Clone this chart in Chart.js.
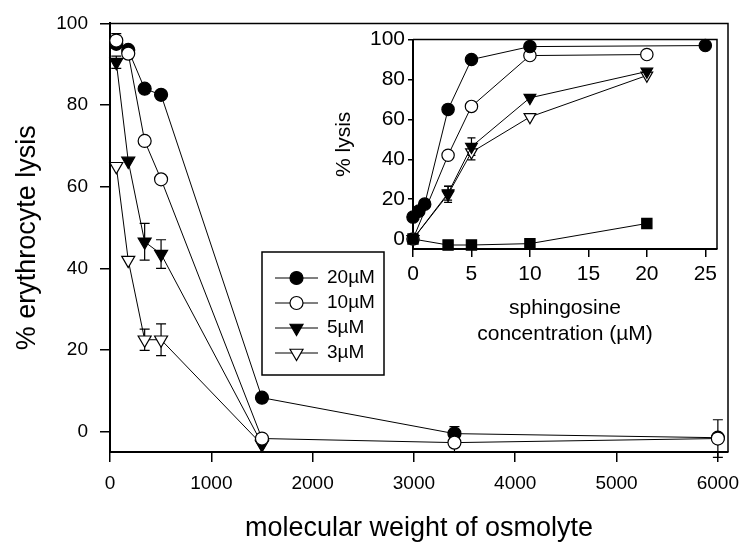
<!DOCTYPE html>
<html>
<head>
<meta charset="utf-8">
<script src="https://cdn.jsdelivr.net/npm/chart.js@4.4.1/dist/chart.umd.min.js"></script>
<style>
  html, body { margin: 0; padding: 0; background: #fff; }
  #wrap { position: relative; width: 750px; height: 552px; }
  #mainChart { position: absolute; left: 0; top: 0; width: 750px; height: 552px; }
  #insetChart { position: absolute; left: 330px; top: 24px; width: 396px; height: 326px; }
</style>
</head>
<body>
<div id="wrap">
  <canvas id="mainChart" width="750" height="552"></canvas>
  <canvas id="insetChart" width="396" height="326"></canvas>
</div>
<script>
const FONT = "'Liberation Sans', Arial, sans-serif";

// ---- main panel: lysis vs molecular weight of osmolyte ----
const molWeight = [62, 180, 342, 504, 1500, 3400, 6000];
const lysis20uM = [95, 93.5, 84, 82.5, 8.3, -0.5, -1.5];
const lysis10uM = [95.8, 92.6, 71.2, 61.8, -1.7, -2.7, -1.7];
const lysis5uM  = [90.5, 66.3, 46.5, 43.5, -3];
const lysis3uM  = [65, 42, 22.5, 22.5, -3.2];
const err20uM = [0, 0, 0, 0, 0, 1.7, 0];
const err10uM = [1.7, 0, 0, 0, 0, 2.2, 4.6];
const err5uM  = [1.5, 0, 4.5, 3.5, 0];
const err3uM  = [0, 0, 2.6, 3.9, 0];
const mainXTicks = [0, 1000, 2000, 3000, 4000, 5000, 6000];
const mainYTicks = [0, 20, 40, 60, 80, 100];
const legendLabels = ['20µM', '10µM', '5µM', '3µM'];

// ---- inset: lysis vs sphingosine concentration ----
const concA  = [0, 0.5, 1, 3, 5, 10, 25];
const lysisA = [11, 14, 17.5, 65, 90, 96.5, 97];
const concB  = [0, 3, 5, 10, 20];
const lysisB = [0, 42, 66.5, 92, 92.5];
const lysisC = [0, 23, 46.3, 70.8, 84];
const lysisD = [0, 22.4, 43.5, 61.2, 82];
const lysisE = [0, -3, -3, -2.3, 7.8];
const errC = [0, 3.5, 4.4, 0, 0];
const errD = [0, 4, 3.8, 0, 0];
const insetXTicks = [0, 5, 10, 15, 20, 25];
const insetYTicks = [0, 20, 40, 60, 80, 100];

const MARKERS = {
  filledCircle: { pointStyle: 'circle', pointRotation: 0, pointBackgroundColor: '#000' },
  openCircle:   { pointStyle: 'circle', pointRotation: 0, pointBackgroundColor: '#fff' },
  filledDown:   { pointStyle: 'triangle', pointRotation: 180, pointBackgroundColor: '#000' },
  openDown:     { pointStyle: 'triangle', pointRotation: 180, pointBackgroundColor: '#fff' },
  filledSquare: { pointStyle: 'rect', pointRotation: 0, pointBackgroundColor: '#000' }
};
const RADIUS = { circle: 6.5, triangle: 7.5, rect: 8.5 };

const pts = (xs, ys) => ys.map((y, i) => ({ x: xs[i], y }));

function series(label, xs, ys, errs, marker, order, scale = 1) {
  const m = MARKERS[marker];
  const r = RADIUS[m.pointStyle] * scale;
  return {
    label, order, errorBars: errs,
    data: pts(xs, ys),
    borderColor: '#000', borderWidth: 1, tension: 0, clip: false,
    pointBorderColor: '#000', pointBorderWidth: 1.2,
    pointRadius: r, pointHoverRadius: r,
    ...m
  };
}

// error bars drawn under the markers
const errorBarPlugin = {
  id: 'errorBars',
  beforeDatasetsDraw(chart, args, opts) {
    const { ctx, scales: { x, y } } = chart;
    ctx.save();
    ctx.strokeStyle = '#000';
    ctx.lineWidth = 1.2;
    chart.data.datasets.forEach(ds => {
      (ds.errorBars || []).forEach((e, i) => {
        if (!e) return;
        const p = ds.data[i];
        const px = x.getPixelForValue(p.x);
        const top = y.getPixelForValue(p.y + e);
        const bot = y.getPixelForValue(p.y - e);
        ctx.beginPath();
        ctx.moveTo(px, top); ctx.lineTo(px, bot);
        ctx.moveTo(px - opts.cap, top); ctx.lineTo(px + opts.cap, top);
        ctx.moveTo(px - opts.cap, bot); ctx.lineTo(px + opts.cap, bot);
        ctx.stroke();
      });
    });
    ctx.restore();
  }
};

// top + right edges of the plot box
const framePlugin = {
  id: 'frame',
  beforeDatasetsDraw(chart, args, opts) {
    const { ctx, chartArea: a } = chart;
    ctx.save();
    ctx.strokeStyle = '#000';
    ctx.lineWidth = opts.width;
    ctx.beginPath();
    ctx.moveTo(a.left, a.top);
    ctx.lineTo(a.right, a.top);
    ctx.lineTo(a.right, a.bottom);
    ctx.stroke();
    ctx.restore();
  }
};

// boxed legend sitting inside the plot
const boxLegendPlugin = {
  id: 'boxLegend',
  afterDraw(chart, args, o) {
    const { ctx } = chart;
    ctx.save();
    ctx.fillStyle = '#fff';
    ctx.strokeStyle = '#000';
    ctx.lineWidth = 1.5;
    ctx.fillRect(o.left, o.top, o.width, o.height);
    ctx.strokeRect(o.left, o.top, o.width, o.height);
    ctx.font = `${o.fontSize}px ${FONT}`;
    ctx.textBaseline = 'middle';
    o.labels.forEach((label, i) => {
      const ds = chart.data.datasets.find(d => d.label === label);
      const y = o.firstRow + i * o.rowGap;
      ctx.lineWidth = 1;
      ctx.strokeStyle = '#000';
      ctx.beginPath();
      ctx.moveTo(o.lineX0, y); ctx.lineTo(o.lineX1, y);
      ctx.stroke();
      ctx.fillStyle = ds.pointBackgroundColor;
      ctx.lineWidth = ds.pointBorderWidth;
      Chart.helpers.drawPoint(ctx, {
        pointStyle: ds.pointStyle, rotation: ds.pointRotation,
        radius: ds.pointRadius, borderWidth: ds.pointBorderWidth
      }, (o.lineX0 + o.lineX1) / 2, y);
      ctx.fillStyle = '#000';
      ctx.fillText(label, o.textX, y);
    });
    ctx.restore();
  }
};

function axis(opts) {
  return {
    type: 'linear', min: opts.min, max: opts.max,
    afterBuildTicks: s => { s.ticks = opts.ticks.map(v => ({ value: v })); },
    afterFit: s => { if (opts.width) s.width = opts.width; if (opts.height) s.height = opts.height; },
    grid: { drawOnChartArea: false, color: '#000', lineWidth: 1.5, tickLength: opts.tickLength },
    border: { color: '#000', width: 2 },
    ticks: {
      color: '#000', font: { family: FONT, size: opts.tickFont }, padding: opts.tickPad,
      maxRotation: 0, autoSkip: false, callback: v => String(v)
    },
    title: {
      display: true, text: opts.title, color: '#000',
      font: { family: FONT, size: opts.titleFont, lineHeight: 1.2 }, padding: opts.titlePad
    }
  };
}

function baseOptions(padding) {
  return {
    responsive: false, animation: false, events: [],
    layout: { padding, autoPadding: false },
    plugins: { legend: { display: false }, tooltip: { enabled: false } }
  };
}

function initMain() {
  const options = baseOptions({ left: 0, top: 22, right: 22, bottom: 0 });
  options.scales = {
    x: axis({ min: 0, max: 6100, ticks: mainXTicks, height: 100, tickLength: 10, tickFont: 19, tickPad: 10,
      title: 'molecular weight of osmolyte', titleFont: 27, titlePad: { top: 0, bottom: 7 } }),
    y: axis({ min: -5, max: 100, ticks: mainYTicks, width: 110, tickLength: 10, tickFont: 19, tickPad: 12,
      title: '% erythrocyte lysis', titleFont: 27, titlePad: { top: 11, bottom: 0 } })
  };
  options.plugins.errorBars = { cap: 5 };
  options.plugins.frame = { width: 1.5 };
  options.plugins.boxLegend = {
    labels: legendLabels, left: 262, top: 252, width: 122, height: 123,
    firstRow: 278, rowGap: 25, lineX0: 275, lineX1: 318, textX: 327, fontSize: 19
  };
  new Chart(document.getElementById('mainChart'), {
    type: 'line',
    data: {
      datasets: [
        series('20µM', molWeight, lysis20uM, err20uM, 'filledCircle', 1),
        series('10µM', molWeight, lysis10uM, err10uM, 'openCircle', 0),
        series('5µM', molWeight, lysis5uM, err5uM, 'filledDown', 2),
        series('3µM', molWeight, lysis3uM, err3uM, 'openDown', 3)
      ]
    },
    options,
    plugins: [errorBarPlugin, framePlugin, boxLegendPlugin]
  });
}

function initInset() {
  const options = baseOptions({ left: 0, top: 13, right: 9, bottom: 0 });
  options.scales = {
    x: axis({ min: 0, max: 26, ticks: insetXTicks, height: 101, tickLength: 8, tickFont: 21, tickPad: 5,
      title: ['sphingosine', 'concentration (µM)'], titleFont: 21, titlePad: { top: 0, bottom: 3.5 } }),
    y: axis({ min: -5, max: 100, ticks: insetYTicks, width: 83, tickLength: 5, tickFont: 21, tickPad: 3,
      title: '% lysis', titleFont: 21, titlePad: { top: 1.5, bottom: 0 } })
  };
  options.plugins.errorBars = { cap: 4 };
  options.plugins.frame = { width: 1.5 };
  new Chart(document.getElementById('insetChart'), {
    type: 'line',
    data: {
      datasets: [
        series('A', concA, lysisA, null, 'filledCircle', 0, 0.95),
        series('B', concB, lysisB, null, 'openCircle', 1, 0.95),
        series('C', concB, lysisC, errC, 'filledDown', 2, 0.9),
        series('D', concB, lysisD, errD, 'openDown', 3, 0.9),
        series('E', concB, lysisE, null, 'filledSquare', 0, 0.85)
      ]
    },
    options,
    plugins: [errorBarPlugin, framePlugin]
  });
}

initMain();
initInset();
</script>
</body>
</html>
